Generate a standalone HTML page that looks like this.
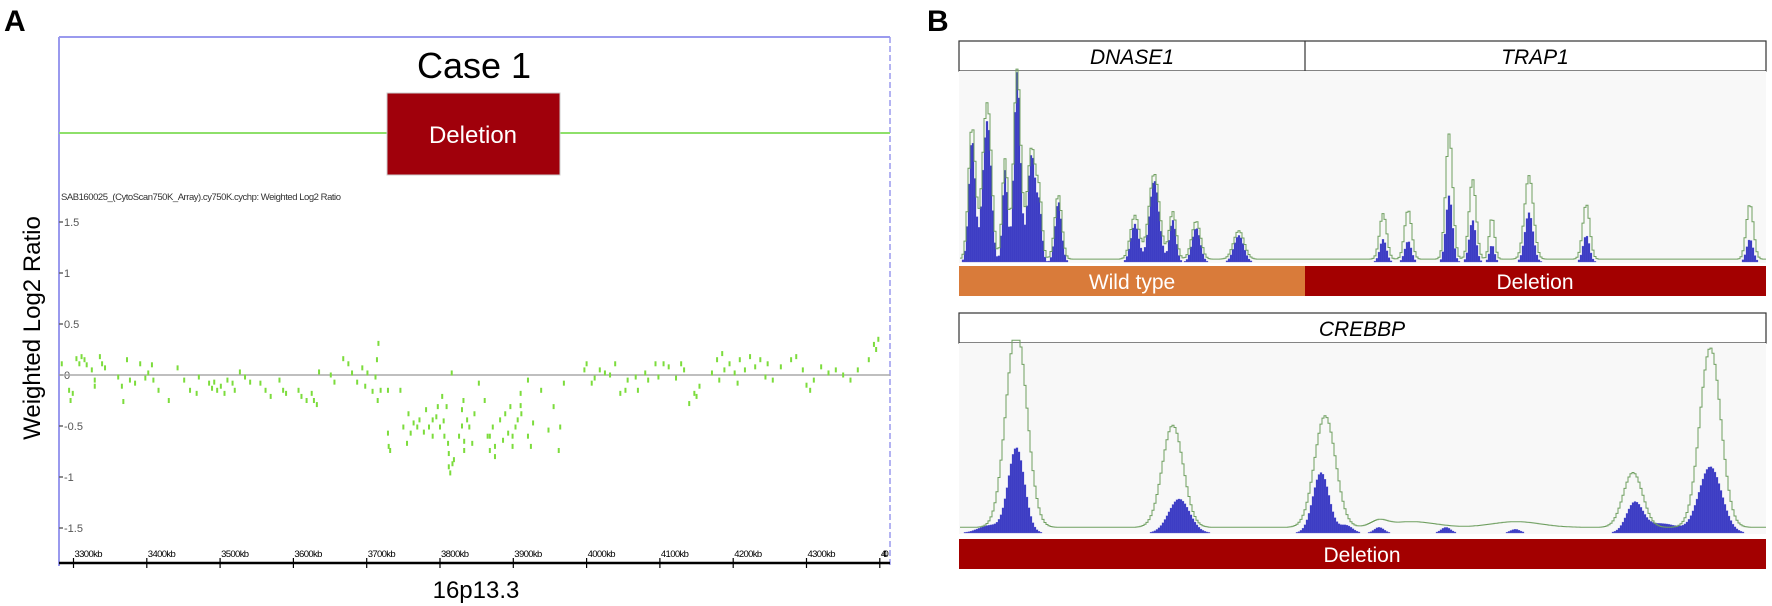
<!DOCTYPE html>
<html><head><meta charset="utf-8"><style>
body{margin:0;background:#fff;}
svg{display:block;font-family:"Liberation Sans",sans-serif;}
</style></head><body>
<svg id="fig" width="1772" height="606" viewBox="0 0 1772 606" xmlns="http://www.w3.org/2000/svg">
<g>
<text x="4" y="31" font-size="30" font-weight="bold">A</text>
<line x1="59" y1="37" x2="890" y2="37" stroke="#9a9aee" stroke-width="2"/>
<line x1="59" y1="37" x2="59" y2="566" stroke="#9a9aee" stroke-width="2"/>
<line x1="890" y1="37" x2="890" y2="566" stroke="#9a9aee" stroke-width="1.5" stroke-dasharray="6,3"/>
<text x="474" y="78" font-size="36" text-anchor="middle">Case 1</text>
<line x1="59" y1="133" x2="890" y2="133" stroke="#8ee06a" stroke-width="2"/>
<rect x="387" y="93" width="173" height="82" fill="#a0000b" stroke="#ccc" stroke-width="1"/>
<text x="473" y="143" font-size="24" fill="#fff" text-anchor="middle">Deletion</text>
<text x="61" y="200" font-size="9.5" fill="#333" textLength="280">SAB160025_(CytoScan750K_Array).cy750K.cychp: Weighted Log2 Ratio</text>
<text transform="translate(40,328) rotate(-90)" font-size="24" text-anchor="middle">Weighted Log2 Ratio</text>
<g id="yticks"></g>
<line x1="59" y1="375" x2="890" y2="375" stroke="#aaa" stroke-width="1.5"/>
<g id="pts"></g>
<line x1="59" y1="563" x2="890" y2="563" stroke="#000" stroke-width="2.5"/>
<g id="xticks"></g>
<text x="476" y="598" font-size="24" text-anchor="middle">16p13.3</text>
</g>
<g>
<text x="927" y="31" font-size="30" font-weight="bold">B</text>
<rect x="959" y="41" width="807" height="30" fill="#fff" stroke="#333" stroke-width="1.2"/>
<line x1="1305" y1="41" x2="1305" y2="71" stroke="#333" stroke-width="1.2"/>
<text x="1132" y="64" font-size="21" font-style="italic" text-anchor="middle">DNASE1</text>
<text x="1535" y="64" font-size="21" font-style="italic" text-anchor="middle">TRAP1</text>
<rect x="959" y="71" width="807" height="192" fill="#f8f8f8"/>
<g id="covTop"></g>
<rect x="959" y="266" width="346" height="30" fill="#d97b3a"/>
<rect x="1305" y="266" width="461" height="30" fill="#a30000"/>
<text x="1132" y="289" font-size="21" fill="#fff" text-anchor="middle">Wild type</text>
<text x="1535" y="289" font-size="21" fill="#fff" text-anchor="middle">Deletion</text>
<rect x="959" y="313" width="807" height="30" fill="#fff" stroke="#333" stroke-width="1.2"/>
<text x="1362" y="336" font-size="21" font-style="italic" text-anchor="middle">CREBBP</text>
<rect x="959" y="343" width="807" height="191" fill="#f8f8f8"/>
<g id="covBot"></g>
<rect x="959" y="539" width="807" height="30" fill="#a30000"/>
<text x="1362" y="562" font-size="21" fill="#fff" text-anchor="middle">Deletion</text>
</g>
</svg>
<script>
// ---- Panel A data ----
const yTickValues=[1.5,1,0.5,0,-0.5,-1,-1.5];
const yTickLabels=["1.5","1","0.5","0","-0.5","-1","-1.5"];
const xTickKb=[3300,3400,3500,3600,3700,3800,3900,4000,4100,4200,4300,4400];
const xTickLabels=["3300kb","3400kb","3500kb","3600kb","3700kb","3800kb","3900kb","4000kb","4100kb","4200kb","4300kb","440"];
const probeKb=[3284,3294,3296,3299,3304,3308,3311,3315,3318,3325,3329,3329,3336,3339,3343,3361,3366,3368,3373,3377,3384,3391,3398,3402,3407,3409,3416,3430,3442,3451,3459,3468,3471,3485,3489,3492,3496,3501,3506,3510,3517,3520,3527,3534,3541,3555,3562,3569,3581,3586,3590,3607,3611,3618,3625,3628,3632,3635,3651,3656,3668,3675,3680,3687,3694,3698,3701,3708,3712,3714,3715,3716,3719,3729,3746,
3729,3730,3732,3750,3755,3757,3760,3764,3769,3772,3778,3781,3785,3790,3795,3797,3800,3803,3806,3809,3811,3812,3814,3816,3817,3819,3826,3830,3832,3833,3837,3840,3844,3847,3853,3861,3865,3868,3872,3875,3882,3886,3889,3893,3896,3899,3903,3906,3910,3911,3920,3924,3927,3938,3948,3955,3962,3964,3969,3812,3830,3833,3868,3875,3899,3910,3920,3790,3805,
3997,4000,4007,4011,4018,4025,4032,4039,4046,4053,4056,4067,4070,4080,4084,4094,4098,4105,4112,4122,4129,4133,4140,4147,4150,4154,4171,4178,4181,4185,4188,4195,4202,4206,4209,4216,4223,4230,4237,4244,4247,4254,4265,4279,4286,4295,4300,4305,4310,4320,4330,4340,4350,4360,4370,4385,4392,4395,4398];
const probeLog2=[0.11,-0.15,-0.25,-0.18,0.16,0.11,0.18,0.15,0.10,0.05,-0.05,-0.11,0.18,0.11,0.07,-0.02,-0.11,-0.26,0.15,-0.05,-0.08,0.11,-0.03,0.02,0.10,-0.05,-0.15,-0.25,0.07,-0.05,-0.15,-0.18,-0.02,-0.08,-0.13,-0.07,-0.15,-0.11,-0.18,-0.05,-0.08,-0.15,0.03,-0.02,-0.07,-0.08,-0.15,-0.21,-0.05,-0.15,-0.18,-0.15,-0.21,-0.25,-0.18,-0.25,-0.29,0.03,0.00,-0.07,0.16,0.11,0.02,-0.07,0.07,-0.11,0.02,-0.16,-0.02,0.15,-0.25,0.31,-0.15,-0.15,-0.15,
-0.57,-0.70,-0.74,-0.51,-0.67,-0.38,-0.57,-0.47,-0.51,-0.44,-0.56,-0.34,-0.51,-0.44,-0.41,-0.31,-0.51,-0.21,-0.60,-0.31,-0.67,-0.77,-0.96,0.02,-0.87,-0.83,-0.60,-0.34,-0.25,-0.74,-0.44,-0.51,-0.67,-0.38,-0.08,-0.25,-0.60,-0.74,-0.51,-0.70,-0.44,-0.64,-0.38,-0.57,-0.31,-0.70,-0.51,-0.44,-0.18,-0.38,-0.05,-0.70,-0.47,-0.15,-0.54,-0.31,-0.74,-0.51,-0.08,-0.90,-0.50,-0.65,-0.60,-0.80,-0.60,-0.30,-0.60,-0.60,-0.45,
0.05,0.11,-0.08,-0.03,0.05,0.02,0.00,0.11,-0.18,-0.15,-0.05,-0.02,-0.15,0.02,-0.05,0.11,-0.02,0.11,0.08,-0.03,0.11,0.05,-0.28,-0.18,-0.21,-0.11,0.02,0.15,-0.05,0.21,0.05,0.11,0.02,-0.08,0.15,0.05,0.18,0.08,0.15,-0.02,0.11,-0.05,0.08,0.15,0.18,0.05,-0.10,-0.15,-0.05,0.08,0.02,0.05,0.00,-0.05,0.05,0.15,0.30,0.25,0.35];

// ---- Panel B data (track positions 0..1000 across gene header) ----
const topBluePos=[15,30,36,55,57,71,89,99,122,217,241,264,293,346,525,556,607,636,660,706,777,980];
const topBlueH=[0.65,0.41,0.56,0.28,0.23,1.0,0.57,0.24,0.32,0.20,0.43,0.22,0.18,0.14,0.12,0.11,0.35,0.22,0.09,0.26,0.14,0.12];
const topGreenH=[0.70,0.44,0.59,0.30,0.25,1.0,0.59,0.26,0.34,0.23,0.45,0.25,0.20,0.15,0.24,0.26,0.66,0.42,0.22,0.44,0.29,0.29];
const topWidth=[4,4,4,3,3,4,5,3,4,5,6,4,5,6,4,4,4,4,3,5,4,4];
const botBluePos=[37,70,272,448,479,520,603,689,837,870,931];
const botBlueH=[0.04,0.45,0.18,0.32,0.04,0.03,0.03,0.02,0.15,0.05,0.35];
const botBlueW=[14,10,13,10,8,6,6,6,10,22,14];
const botGreenPos=[70,264,453,835,931,560,690,520];
const botGreenH=[1.05,0.54,0.59,0.29,0.95,0.03,0.03,0.03];
const botGreenW=[13,13,13,12,13,30,30,10];

const NS="http://www.w3.org/2000/svg";
function mk(tag,attrs,parent){const e=document.createElementNS(NS,tag);for(const k in attrs)e.setAttribute(k,attrs[k]);parent.appendChild(e);return e;}

// Panel A scales
const yA=v=>375-v*102;
const xA=kb=>73.5+(kb-3300)*0.733;
const yt=document.getElementById('yticks');
yTickValues.forEach((v,i)=>{
  const l=mk('line',{x1:59,y1:yA(v),x2:63,y2:yA(v),stroke:'#666','stroke-width':1.5},yt);
  
  
  const t=mk('text',{x:64,y:yA(v)+4,'font-size':11,fill:'#555'},yt);
  t.textContent=yTickLabels[i];
  
  
});
const xt=document.getElementById('xticks');
xTickKb.forEach((kb,i)=>{
  const l=mk('line',{x1:xA(kb),y1:558,x2:xA(kb),y2:568,stroke:'#000','stroke-width':1.2},xt);
  
  
  const t=mk('text',{x:xA(kb)+1,y:557,'font-size':9.5,fill:'#000',textLength:i==11?8:28},xt);
  t.textContent=xTickLabels[i];
  
  
});
const pg=document.getElementById('pts');
probeKb.forEach((kb,i)=>{
  const r=mk('rect',{x:xA(kb)-1,y:yA(probeLog2[i])-2.5,width:2,height:5,fill:'#7cdc3c'},pg);
  
  
});

// Panel B
function cov(p,pos,h,w){let s=0;for(let i=0;i<pos.length;i++){const d=(p-pos[i])/w[i];s+=h[i]*Math.exp(-0.5*d*d);}return s;}
function drawCov(gid,top,base,bp,bh,bw,gp,gh,gw,gbase){
  const g=document.getElementById(gid);
  const H=base-top;
  const xB=p=>959+p*0.806;
  let d='';
  for(let px=960;px<1766;px+=2){
    const p=(px-959)/0.806;
    const v=Math.min(1,cov(p,bp,bh,bw));
    const hh=v*H;
    if(hh>0.6){
      const r=mk('rect',{x:px,y:base-hh,width:2,height:hh,fill:'#3535c0',stroke:'#6b6bd8','stroke-width':0.3},g);
      
      
    }
  }
  for(let px=960;px<1766;px+=2){
    const p=(px-959)/0.806;
    const v=Math.min(1.02,cov(p,gp,gh,gw)+gbase);
    const y=base-v*H;
    d+=(px===960?'M':'L')+px+','+y.toFixed(1)+'L'+(px+2)+','+y.toFixed(1);
  }
  const pth=mk('path',{d:d,fill:'none',stroke:'#6f9f60','stroke-width':1},g);
  
  
}
drawCov('covTop',72,262,topBluePos,topBlueH,topWidth,topBluePos,topGreenH,topWidth.map(w=>w*1.1),0.015);
drawCov('covBot',344,533,botBluePos,botBlueH,botBlueW,botGreenPos,botGreenH,botGreenW,0.03);
</script>
</body></html>
